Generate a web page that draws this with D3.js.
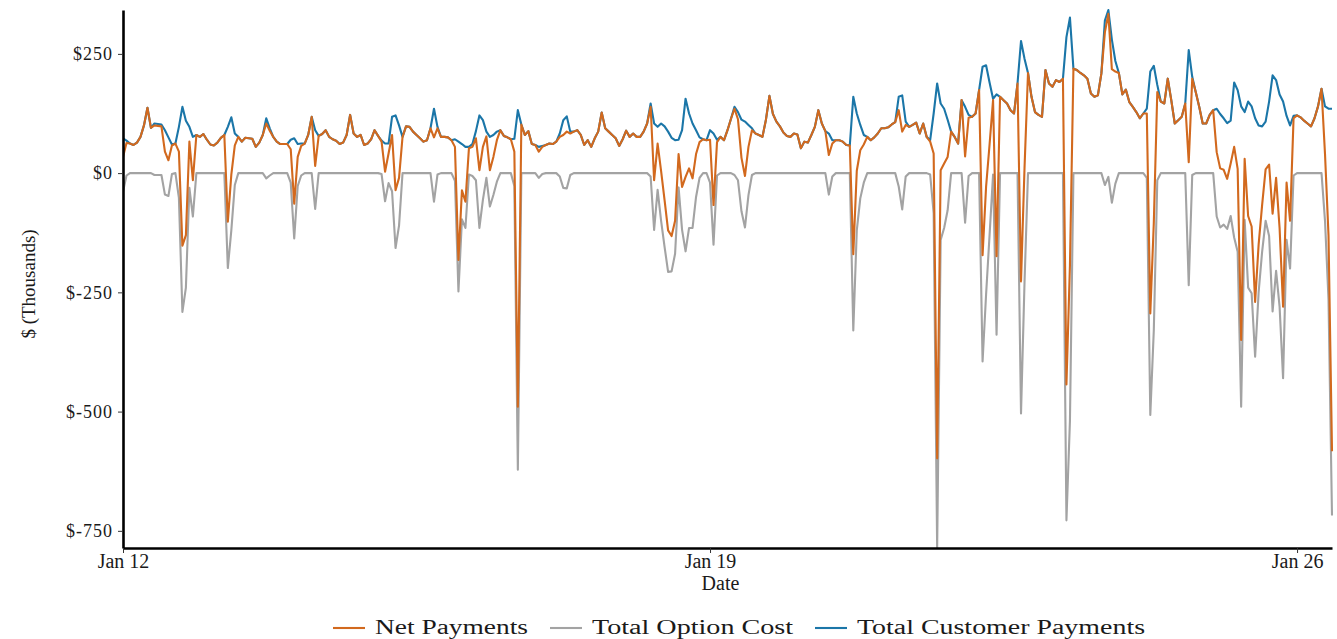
<!DOCTYPE html>
<html>
<head>
<meta charset="utf-8">
<script src="https://cdn.jsdelivr.net/npm/d3@7"></script>
<style>
  html, body { margin: 0; padding: 0; background: #ffffff; }
  svg { display: block; }
  text { font-family: "Liberation Serif", "Times New Roman", serif; fill: #1a1a1a; }
</style>
</head>
<body>
<svg id="chart" width="1337" height="639"></svg>
<script>
// Hourly series, starting Jan 12 00:00 ($ thousands)
const startTime = new Date(2025, 0, 12, 0, 0, 0);

const customerPayments = [
  73, 68, 62, 59, 64, 76, 100, 137, 95, 104, 103, 102,
  90, 75, 60, 62, 97, 139, 110, 97, 76, 80, 76, 82,
  70, 60, 58, 64, 74, 80, 97, 117, 83, 76, 66, 74,
  73, 72, 55, 64, 80, 115, 94, 76, 66, 61, 61, 61,
  70, 73, 61, 62, 62, 80, 118, 90, 78, 82, 90, 76,
  71, 68, 61, 64, 80, 122, 83, 76, 80, 59, 62, 71,
  90, 78, 68, 62, 62, 118, 121, 100, 76, 98, 97, 87,
  80, 73, 66, 69, 94, 135, 97, 76, 76, 75, 69, 71,
  66, 61, 55, 55, 61, 88, 121, 111, 87, 76, 80, 87,
  90, 78, 75, 71, 72, 132, 102, 80, 88, 61, 59, 55,
  57, 59, 62, 61, 66, 83, 111, 119, 87, 87, 90, 80,
  59, 69, 55, 73, 87, 127, 94, 87, 80, 73, 57, 71,
  89, 76, 83, 76, 76, 87, 104, 146, 104, 97, 104, 98,
  87, 74, 69, 70, 90, 156, 125, 104, 90, 75, 71, 69,
  90, 83, 70, 76, 69, 90, 114, 139, 128, 112, 108, 101,
  94, 83, 80, 76, 112, 162, 124, 108, 98, 85, 78, 76,
  83, 81, 52, 66, 64, 80, 97, 132, 104, 88, 83, 69,
  69, 69, 66, 59, 58, 160, 125, 101, 80, 76, 69, 75,
  83, 94, 94, 96, 102, 107, 160, 163, 108, 97, 101, 106,
  83, 104, 76, 69, 125, 188, 146, 135, 112, 87, 76, 62,
  153, 139, 122, 118, 125, 174, 223, 226, 190, 156, 165, 160,
  153, 146, 132, 125, 188, 277, 240, 210, 160, 128, 122, 118,
  216, 188, 181, 195, 191, 198, 285, 326, 219, 216, 210, 205,
  198, 167, 160, 163, 209, 320, 342, 280, 235, 210, 165, 175,
  149, 139, 128, 115, 125, 135, 213, 225, 185, 150, 146, 198,
  153, 104, 111, 118, 146, 258, 202, 170, 139, 104, 104, 122,
  132, 135, 124, 115, 105, 110, 190, 174, 140, 128, 150, 140,
  115, 100, 98, 108, 150, 205, 195, 165, 150, 120, 100, 120,
  121, 117, 110, 104, 98, 115, 140, 177, 140, 135, 135
];

const optionCost = [
  -39, -5, 0, 0, 0, 0, 0, 0, 0, -4, -4, -4,
  -45, -48, -2, 0, -52, -291, -240, -31, -91, 0, 0, 0,
  0, 0, 0, 0, 0, 0, -199, -120, -25, 0, 0, 0,
  0, 0, 0, 0, 0, -11, -5, 0, 0, 0, 0, 0,
  -20, -137, -27, -5, 0, 0, 0, -75, 0, 0, 0, 0,
  0, 0, 0, 0, 0, 0, 0, 0, 0, 0, 0, 0,
  0, 0, -2, -59, -21, -38, -157, -110, 0, 0, 0, 0,
  0, 0, 0, 0, 0, -60, -3, 0, 0, 0, 0, -16,
  -248, -97, -115, -3, -6, -15, -115, -56, -10, -70, -46, -18,
  0, 0, 0, 0, -27, -622, 0, 0, 0, 0, 0, -10,
  -2, 0, 0, 0, 0, -7, -31, -32, -4, 0, 0, 0,
  0, 0, 0, 0, 0, 0, 0, 0, 0, 0, 0, 0,
  0, 0, 0, 0, 0, 0, 0, -7, -119, -35, -100, -155,
  -207, -206, -169, -30, -119, -164, -115, -115, -50, -10, 0, 0,
  -20, -150, -5, 0, 0, 0, 0, -4, -15, -80, -114, -46,
  -4, 0, 0, 0, 0, 0, 0, 0, 0, 0, 0, 0,
  0, 0, 0, 0, 0, 0, 0, 0, 0, 0, -45, -7,
  0, 0, 0, 0, 0, -330, -120, -53, -20, 0, 0, 0,
  0, 0, 0, 0, 0, 0, -28, -76, -7, 0, 0, 0,
  0, 0, 0, -3, -84, -786, -140, -115, -78, 0, 0, 0,
  0, -104, -6, 0, 0, 0, -395, -255, -130, -3, -339, 0,
  0, 0, 0, 0, 0, -504, -230, 0, 0, 0, 0, 0,
  0, 0, 0, 0, 0, 0, -728, -520, 0, 0, 0, 0,
  0, 0, 0, 0, 0, -25, -8, -62, -22, 0, 0, 0,
  0, 0, 0, 0, 0, -10, -507, -330, -15, 0, 0, 0,
  0, 0, 0, 0, 0, -235, -4, 0, 0, 0, 0, 0,
  0, -91, -114, -108, -117, -90, -135, -165, -490, -98, -240, -252,
  -385, -250, -165, -100, -132, -290, -205, -280, -430, -140, -200, -5,
  0, 0, 0, 0, 0, 0, 0, 0, -100, -265, -718
];

// Net payments = customer payments less option cost
const netPayments = customerPayments.map((v, i) => v + optionCost[i]);

const yTickValues = [250, 0, -250, -500, -750];
const xTickDates = [new Date(2025, 0, 12), new Date(2025, 0, 19), new Date(2025, 0, 26)];

const seriesNames = ["Net Payments", "Total Option Cost", "Total Customer Payments"];
const seriesColors = ["#d2691e", "#a3a3a3", "#1b76a8"];

const hour = 3600 * 1000;
const toPoints = arr => arr.map((v, i) => ({ date: new Date(startTime.getTime() + i * hour), value: v }));
const series = [
  { name: seriesNames[2], color: seriesColors[2], points: toPoints(customerPayments) },
  { name: seriesNames[1], color: seriesColors[1], points: toPoints(optionCost) },
  { name: seriesNames[0], color: seriesColors[0], points: toPoints(netPayments) }
];

const svg = d3.select("#chart");
const panel = { left: 123, right: 1332, top: 10, bottom: 548 };

const allPoints = series.flatMap(s => s.points);
const x = d3.scaleTime()
  .domain(d3.extent(allPoints, d => d.date))
  .range([panel.left, panel.right]);
const y = d3.scaleLinear()
  .domain(d3.extent(allPoints, d => d.value))
  .range([panel.bottom, panel.top]);

svg.append("defs").append("clipPath").attr("id", "panel-clip")
  .append("rect")
  .attr("x", panel.left).attr("y", panel.top - 2)
  .attr("width", panel.right - panel.left + 4)
  .attr("height", panel.bottom - panel.top + 2);

const line = d3.line().x(d => x(d.date)).y(d => y(d.value));

svg.append("g").attr("clip-path", "url(#panel-clip)")
  .selectAll("path")
  .data(series)
  .join("path")
  .attr("d", d => line(d.points))
  .attr("fill", "none")
  .attr("stroke", d => d.color)
  .attr("stroke-width", 2.1)
  .attr("stroke-linejoin", "round");

// Y axis
const yAxis = svg.append("g")
  .attr("transform", `translate(${panel.left},0)`)
  .call(d3.axisLeft(y).tickValues(yTickValues).tickSize(5).tickSizeOuter(0).tickPadding(5)
    .tickFormat(v => "$" + v));
yAxis.select(".domain").attr("stroke", "#000").attr("stroke-width", 2.6);
yAxis.selectAll(".tick line").attr("stroke", "#333").attr("stroke-width", 1);
yAxis.selectAll(".tick text")
  .attr("font-size", 18)
  .attr("letter-spacing", 1)
  .style("font-family", "'Liberation Serif', serif")
  .attr("fill", "#1a1a1a");

// X axis
const xAxis = svg.append("g")
  .attr("transform", `translate(0,${panel.bottom})`)
  .call(d3.axisBottom(x).tickValues(xTickDates).tickSize(5).tickSizeOuter(0).tickPadding(1)
    .tickFormat(d3.timeFormat("%b %d")));
xAxis.select(".domain").attr("stroke", "#000").attr("stroke-width", 2.6);
xAxis.selectAll(".tick line").attr("stroke", "#333").attr("stroke-width", 1);
xAxis.selectAll(".tick text")
  .attr("font-size", 20)
  .style("font-family", "'Liberation Serif', serif")
  .attr("fill", "#1a1a1a");

// Axis titles
svg.append("text")
  .attr("x", (panel.left + panel.right) / 2 - 7)
  .attr("y", 590)
  .attr("text-anchor", "middle")
  .attr("font-size", 20)
  .text("Date");

svg.append("text")
  .attr("transform", `translate(35,${(panel.top + panel.bottom) / 2 + 5}) rotate(-90)`)
  .attr("text-anchor", "middle")
  .attr("font-size", 19)
  .text("$ (Thousands)");

// Legend
const legendItems = [
  { name: seriesNames[0], color: seriesColors[0], x: 333, w: 153 },
  { name: seriesNames[1], color: seriesColors[1], x: 550, w: 201 },
  { name: seriesNames[2], color: seriesColors[2], x: 815, w: 288 }
];
const legend = svg.append("g").attr("class", "legend");
legendItems.forEach(item => {
  const g = legend.append("g").attr("transform", `translate(${item.x},628)`);
  g.append("line").attr("x1", 0).attr("x2", 32).attr("y1", 0).attr("y2", 0)
    .attr("stroke", item.color).attr("stroke-width", 2.1);
  g.append("text").attr("x", 42).attr("y", 6)
    .attr("font-size", 20)
    .attr("textLength", item.w)
    .attr("lengthAdjust", "spacingAndGlyphs")
    .text(item.name);
});
</script>
</body>
</html>
